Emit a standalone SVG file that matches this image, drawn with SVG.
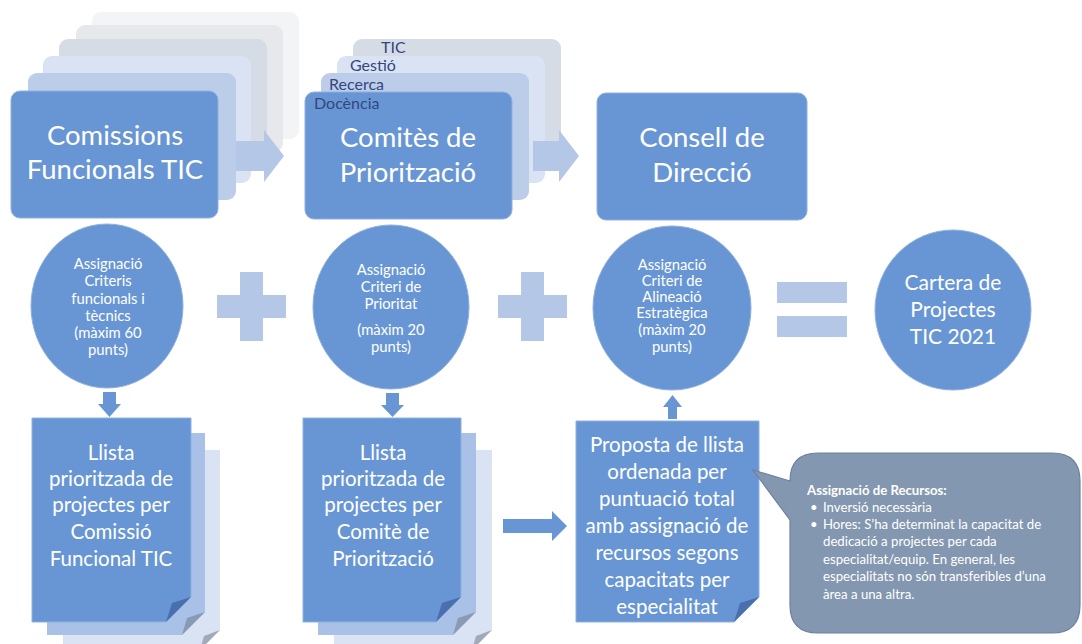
<svg xmlns="http://www.w3.org/2000/svg" width="1082" height="644" viewBox="0 0 1082 644">
<style>
text{font-family:Lato,"Open Sans","Liberation Sans",sans-serif;fill:#fff;text-anchor:middle}
.main{fill:#6896d4;stroke:#8fb0e0;stroke-width:1}
.big{font-size:27.5px}
.doc{font-size:20.5px}
.circ{font-size:14.8px}
.tab{font-size:16px;fill:#34467e;text-anchor:start}
.light{fill:#b4c7e7}
.fold{fill:#4a6fae}
.cal{font-size:13.2px;text-anchor:start}
</style>
<rect width="1082" height="644" fill="#fff"/>

<g id="comissions">
<rect x="92" y="12" width="207" height="127" rx="9" fill="#f3f4f6"/>
<rect x="76" y="25" width="207" height="127" rx="9" fill="#e6e8ec"/>
<rect x="59" y="39" width="208" height="127" rx="9" fill="#d6dce5"/>
<rect x="43" y="56" width="208" height="127" rx="9" fill="#dae3f3"/>
<rect x="28" y="73" width="208" height="127" rx="9" fill="#bccde9"/>
<rect class="main" x="11" y="91" width="207" height="127" rx="9"/>
<text class="big" x="115" y="145">Comissions</text>
<text class="big" x="115" y="179">Funcionals TIC</text>
</g>

<g id="comites">
<rect x="353" y="39" width="208" height="127" rx="9" fill="#d6dce5"/>
<rect x="337" y="56" width="208" height="127" rx="9" fill="#dae3f3"/>
<rect x="321" y="73" width="208" height="127" rx="9" fill="#bccde9"/>
<rect class="main" x="305" y="92" width="207" height="127" rx="9"/>
<text class="tab" x="381" y="53">TIC</text>
<text class="tab" x="350" y="71">Gestió</text>
<text class="tab" x="329" y="90">Recerca</text>
<text class="tab" x="314" y="109">Docència</text>
<text class="big" x="408" y="147">Comitès de</text>
<text class="big" x="408" y="182">Priorització</text>
</g>

<g id="consell">
<rect class="main" x="597" y="93" width="210" height="127" rx="9"/>
<text class="big" x="702" y="147">Consell de</text>
<text class="big" x="702" y="182">Direcció</text>
</g>

<g id="connectors">
<path class="light" d="M236,141 H264 V130 L284,156 L264,182 V171 H236 Z"/>
<path class="light" d="M533,141 H559 V130 L579,156 L559,182 V171 H533 Z"/>
<path fill="#6896d4" d="M103,392 H116 V404 H121 L109.5,417 L98,404 H103 Z"/>
<path fill="#6896d4" d="M386,393 H399 V405 H404 L392.5,417 L381,405 H386 Z"/>
<path fill="#6896d4" d="M668,419 H677 V407 H682 L672.5,395 L663,407 H668 Z"/>
<path fill="#6896d4" d="M503,519 H552 V511 L567,526 L552,541 V533 H503 Z"/>
</g>

<g id="ops">
<path class="light" d="M240,272 H263 V295 H286 V318 H263 V341 H240 V318 H217 V295 H240 Z"/>
<path class="light" d="M521,272 H544 V295 H567 V318 H544 V341 H521 V318 H498 V295 H521 Z"/>
<rect class="light" x="777" y="282" width="70" height="21"/>
<rect class="light" x="777" y="316" width="70" height="21"/>
</g>

<g id="circle1">
<ellipse class="main" cx="107" cy="306" rx="76" ry="82"/>
<text class="circ" x="108" y="269">Assignació</text>
<text class="circ" x="108" y="286">Criteris</text>
<text class="circ" x="108" y="304">funcionals i</text>
<text class="circ" x="108" y="321">tècnics</text>
<text class="circ" x="108" y="338">(màxim 60</text>
<text class="circ" x="108" y="355">punts)</text>
</g>

<g id="circle2">
<ellipse class="main" cx="391" cy="307" rx="78" ry="82"/>
<text class="circ" x="391" y="275">Assignació</text>
<text class="circ" x="391" y="292">Criteri de</text>
<text class="circ" x="391" y="309">Prioritat</text>
<text class="circ" x="391" y="335">(màxim 20</text>
<text class="circ" x="391" y="352">punts)</text>
</g>

<g id="circle3">
<ellipse class="main" cx="672" cy="308" rx="79" ry="82"/>
<text class="circ" x="672" y="270">Assignació</text>
<text class="circ" x="672" y="286">Criteri de</text>
<text class="circ" x="672" y="302">Alineació</text>
<text class="circ" x="672" y="318">Estratègica</text>
<text class="circ" x="672" y="335">(màxim 20</text>
<text class="circ" x="672" y="352">punts)</text>
</g>

<g id="cartera">
<ellipse class="main" cx="953" cy="310" rx="78" ry="80"/>
<text x="953" y="290" style="font-size:21px">Cartera de</text>
<text x="953" y="317" style="font-size:21px">Projectes</text>
<text x="953" y="344" style="font-size:21px">TIC 2021</text>
</g>

<g id="llista1">
<path d="M63,450 H220 V630 L200,650 H63 Z" fill="#dae3f3"/>
<path d="M220,630 L204,636 L200,650 Z" fill="#a0aabb"/>
<path d="M47,433 H205 V612 L182,635 H47 Z" fill="#a9c1e7"/>
<path d="M205,612 L187,618 L182,635 Z" fill="#8a9ab5"/>
<path class="main" d="M32,418 H191 V597 L166,622 H32 Z"/>
<path class="fold" d="M191,597 L172,603 L166,622 Z"/>
<text class="doc" x="111" y="460">Llista</text>
<text class="doc" x="111" y="486">prioritzada de</text>
<text class="doc" x="111" y="512">projectes per</text>
<text class="doc" x="111" y="539">Comissió</text>
<text class="doc" x="111" y="566">Funcional TIC</text>
</g>

<g id="llista2">
<path d="M334,450 H492 V630 L472,650 H334 Z" fill="#dae3f3"/>
<path d="M492,630 L476,636 L472,650 Z" fill="#a0aabb"/>
<path d="M318,433 H476 V612 L453,635 H318 Z" fill="#a9c1e7"/>
<path d="M476,612 L458,618 L453,635 Z" fill="#8a9ab5"/>
<path class="main" d="M303,418 H461 V597 L436,622 H303 Z"/>
<path class="fold" d="M461,597 L442,603 L436,622 Z"/>
<text class="doc" x="383" y="460">Llista</text>
<text class="doc" x="383" y="486">prioritzada de</text>
<text class="doc" x="383" y="512">projectes per</text>
<text class="doc" x="383" y="539">Comitè de</text>
<text class="doc" x="383" y="566">Priorització</text>
</g>

<g id="proposta">
<path class="main" d="M576,421 H759 V597 L734,622 H576 Z"/>
<path class="fold" d="M759,597 L740,603 L734,622 Z"/>
<text class="doc" x="667" y="452">Proposta de llista</text>
<text class="doc" x="667" y="479">ordenada per</text>
<text class="doc" x="667" y="506">puntuació total</text>
<text class="doc" x="667" y="533">amb assignació de</text>
<text class="doc" x="667" y="560">recursos segons</text>
<text class="doc" x="667" y="587">capacitats per</text>
<text class="doc" x="667" y="614">especialitat</text>
</g>

<g id="recursos">
<path d="M818,453 H1052 Q1080,453 1080,481 V605 Q1080,633 1052,633 H818 Q790,633 790,605 V520 L753,470 L790,481 Q790,453 818,453 Z" fill="#8497b0" stroke="#6f819d" stroke-width="1.2"/>
<text class="cal" x="807" y="495" style="font-weight:bold">Assignació de Recursos:</text>
<text class="cal" x="810" y="512">•</text>
<text class="cal" x="823" y="512">Inversió necessària</text>
<text class="cal" x="810" y="529">•</text>
<text class="cal" x="823" y="529">Hores: S’ha determinat la capacitat de</text>
<text class="cal" x="823" y="546">dedicació a projectes per cada</text>
<text class="cal" x="823" y="564">especialitat/equip. En general, les</text>
<text class="cal" x="823" y="581">especialitats no són transferibles d’una</text>
<text class="cal" x="823" y="599">àrea a una altra.</text>
</g>
</svg>
